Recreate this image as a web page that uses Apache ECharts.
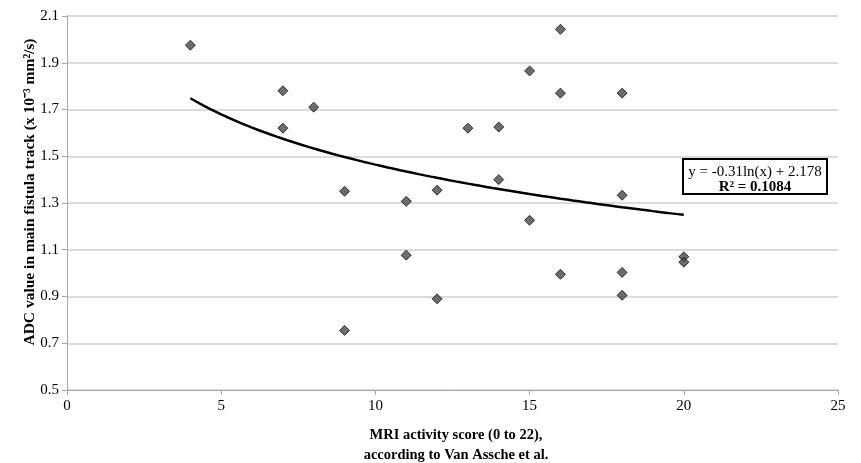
<!DOCTYPE html>
<html>
<head>
<meta charset="utf-8">
<script src="https://cdn.jsdelivr.net/npm/echarts@6/dist/echarts.min.js"></script>
<style>
html,body{margin:0;padding:0;background:#fff;}
#chart{width:861px;height:463px;}
</style>
</head>
<body>
<div id="chart"></div>
<script>
// MRI activity score (x) and ADC value (y) for each patient
var scoreX = [4, 7, 7, 8, 9, 9, 11, 11, 12, 12, 13, 14, 14, 15, 15, 16, 16, 16, 18, 18, 18, 18, 20, 20];
var adcY   = [1.975, 1.78, 1.62, 1.71, 1.35, 0.755, 1.307, 1.077, 1.355, 0.89, 1.62, 1.625, 1.40, 1.865, 1.226, 2.043, 1.77, 0.995, 1.77, 1.333, 1.003, 0.905, 1.07, 1.047];
// Logarithmic trendline shown on the chart: y = a*ln(x) + b
var trendCoef = [-0.31, 2.178];
var trendRange = [4, 20];
var yTicks = ['0.5','0.7','0.9','1.1','1.3','1.5','1.7','1.9','2.1'];
var xTicks = ['0','5','10','15','20','25'];
var eqText = 'y = -0.31ln(x) + 2.178';
var r2Text = 'R² = 0.1084';

var points = scoreX.map(function(x, i){ return [x, adcY[i]]; });
var trend = [];
for (var k = 0; k <= 80; k++) {
  var x = trendRange[0] + (trendRange[1] - trendRange[0]) * k / 80;
  trend.push([x, trendCoef[0] * Math.log(x) + trendCoef[1]]);
}

var font = 'Liberation Serif, Times New Roman, serif';
var chart = echarts.init(document.getElementById('chart'));
chart.setOption({
  animation: false,
  backgroundColor: '#fff',
  grid: {left: 67, right: 23, top: 16, bottom: 73, containLabel: false},
  xAxis: {
    type: 'value', min: 0, max: 25, interval: 5,
    axisLine: {show: true, lineStyle: {color: '#a6a6a6', width: 1}},
    axisTick: {show: true, inside: false, length: 5, lineStyle: {color: '#a6a6a6'}},
    splitLine: {show: false},
    axisLabel: {color: '#000', fontFamily: font, fontSize: 15, margin: 9,
      formatter: function(v){ return xTicks[Math.round(v/5)] || String(v); }}
  },
  yAxis: {
    type: 'value', min: 0.5, max: 2.1, interval: 0.2,
    axisLine: {show: true, lineStyle: {color: '#a6a6a6', width: 1}},
    axisTick: {show: true, inside: false, length: 5, lineStyle: {color: '#a6a6a6'}},
    splitLine: {show: true, lineStyle: {color: '#cfcfcf', width: 1.5}},
    axisLabel: {color: '#000', fontFamily: font, fontSize: 15, margin: 8,
      formatter: function(v){ var i = Math.round((v-0.5)/0.2); return yTicks[i] || v.toFixed(1); }}
  },
  series: [
    {
      type: 'scatter', data: points, symbol: 'diamond', symbolSize: 10,
      itemStyle: {color: '#474747', borderColor: '#111', borderWidth: 1},
      z: 3
    },
    {
      type: 'line', data: trend, showSymbol: false, smooth: false,
      lineStyle: {color: '#000', width: 2.5}, z: 2
    }
  ],
  graphic: [
    {
      type: 'text', x: 456, y: 435,
      style: {text: 'MRI activity score (0 to 22),', fill: '#000',
        font: 'bold 14.5px ' + font, align: 'center', verticalAlign: 'middle'}
    },
    {
      type: 'text', x: 456, y: 455,
      style: {text: 'according to Van Assche et al.', fill: '#000',
        font: 'bold 14.5px ' + font, align: 'center', verticalAlign: 'middle'}
    },
    {
      type: 'text', rotation: Math.PI/2,
      x: 30, y: 192,
      style: {text: 'ADC value in main fistula track (x 10⁻³ mm²/s)', fill: '#000',
        font: 'bold 15.5px ' + font, align: 'center', verticalAlign: 'middle'}
    },
    {
      type: 'rect', shape: {x: 683, y: 159, width: 144, height: 35},
      style: {fill: '#fff', stroke: '#000', lineWidth: 2}, z: 10
    },
    {
      type: 'text', x: 755, y: 172, z: 11,
      style: {text: eqText, fill: '#000', font: '15px ' + font, align: 'center', verticalAlign: 'middle'}
    },
    {
      type: 'text', x: 755, y: 187.5, z: 11,
      style: {text: r2Text, fill: '#000', font: 'bold 15px ' + font, align: 'center', verticalAlign: 'middle'}
    }
  ]
});
</script>
</body>
</html>
